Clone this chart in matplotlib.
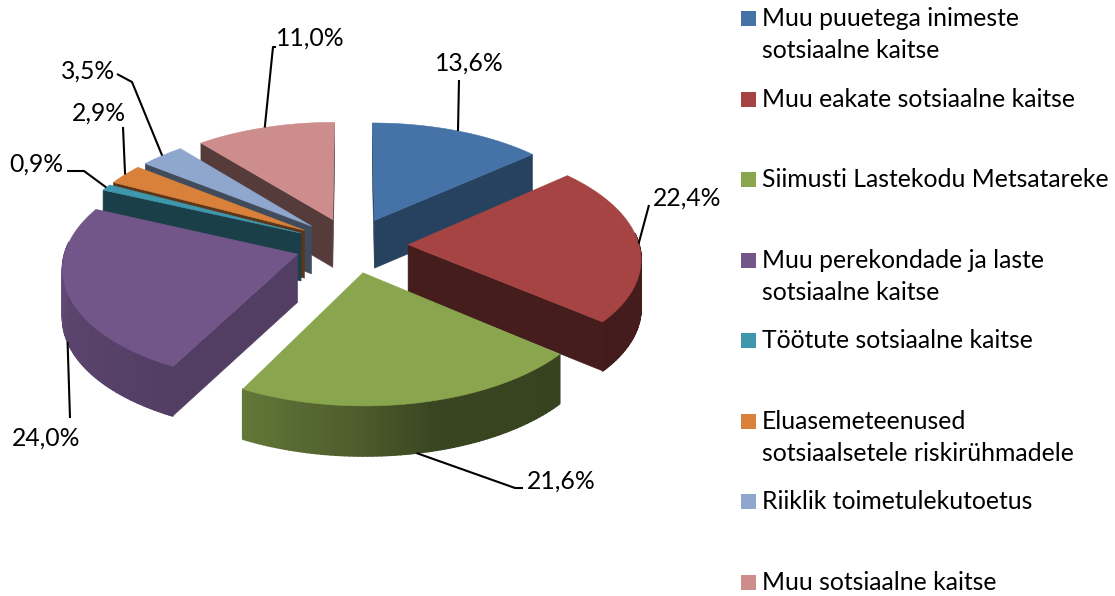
import numpy as np
import matplotlib
matplotlib.use("Agg")
import matplotlib.pyplot as plt
from matplotlib.patches import Polygon, Rectangle

plt.rcParams['font.family'] = ['Lato', 'DejaVu Sans']

# data
categories = ["Muu puuetega inimeste\nsotsiaalne kaitse", "Muu eakate sotsiaalne kaitse",
              "Siimusti Lastekodu Metsatareke", "Muu perekondade ja laste\nsotsiaalne kaitse",
              "Töötute sotsiaalne kaitse", "Eluasemeteenused\nsotsiaalsetele riskirühmadele",
              "Riiklik toimetulekutoetus", "Muu sotsiaalne kaitse"]
values = [13.6, 22.4, 21.6, 24.0, 0.9, 2.9, 3.5, 11.0]
value_labels = ["13,6%", "22,4%", "21,6%", "24,0%", "0,9%", "2,9%", "3,5%", "11,0%"]

# styles
colors = ["#4573a7", "#a54442", "#89a54e", "#72568a", "#3f97ae", "#d9813b", "#8fa7cd", "#cd8d8c"]
wall_shade = [0.57, 0.42, 0.42, 0.72, 0.42, 0.42, 0.45, 0.42]
draw_order = [7, 0, 6, 5, 4, 3, 1, 2]

# projection of the exploded pie, in pixels
cx, cy = 351.5, 245
scale_x, scale_y = 231, 112.7
persp = 0.106
explode = 0.245
height = 48


def project(x, y, z=0):
    f = 1 / (1 + persp * y)
    return cx + scale_x * x * f, cy - scale_y * y * f + height * z * f ** 0.3


def outer_shade(theta):
    return np.interp(theta, [0, 90, 130, 165, 180, 207, 250, 270, 300, 360],
                     [0.42, 0.42, 0.40, 0.42, 0.55, 0.72, 0.80, 0.85, 0.80, 0.42])


def shade(color, k):
    return tuple(np.array(matplotlib.colors.to_rgb(color)) * k)


fig = plt.figure(figsize=(11.15, 5.96), dpi=100)
ax = fig.add_axes([0, 0, 1, 1])
ax.set_xlim(0, 1115)
ax.set_ylim(596, 0)
ax.axis('off')

edges = np.concatenate([[0], np.cumsum(values)]) / sum(values) * 360
starts, ends = edges[:-1], edges[1:]
mids = (starts + ends) / 2


def slice_offset(i):
    m = np.radians(mids[i])
    return explode * np.sin(m), explode * np.cos(m)


def rim(i, theta):
    ox, oy = slice_offset(i)
    t = np.radians(theta)
    return ox + np.sin(t), oy + np.cos(t)


def wall_visible(i, a):
    # the wall shows when the slice itself lies above its edge on screen
    ax0, ay0 = project(*slice_offset(i))
    rx0, ry0 = project(*rim(i, a))
    mx0, my0 = project(*rim(i, mids[i]))
    side_down = rx0 - ax0
    side_mid = (rx0 - ax0) * (my0 - ay0) - (ry0 - ay0) * (mx0 - ax0)
    return side_down * side_mid < 0


for i in draw_order:
    ox, oy = slice_offset(i)
    wall = shade(colors[i], wall_shade[i])
    th = np.linspace(starts[i], ends[i], max(3, int(ends[i] - starts[i]) + 1))
    # outer wall, cut into small strips for the shading
    for a, b in zip(th[:-1], th[1:]):
        if np.cos(np.radians((a + b) / 2)) > 0.1:
            continue  # faces away
        xa, ya = rim(i, a)
        xb, yb = rim(i, b)
        c = shade(colors[i], outer_shade((a + b) / 2))
        pts = [project(xa, ya), project(xb, yb), project(xb, yb, 1), project(xa, ya, 1)]
        ax.add_patch(Polygon(pts, closed=True, fc=c, ec=c, lw=1.2, joinstyle='round'))
    # radial walls
    for a in (starts[i], ends[i]):
        if wall_visible(i, a):
            rx, ry = rim(i, a)
            pts = [project(ox, oy), project(rx, ry), project(rx, ry, 1), project(ox, oy, 1)]
            ax.add_patch(Polygon(pts, closed=True, fc=wall, ec=wall, lw=0.4))
    # top face
    top = [project(ox, oy)]
    for a in th:
        top.append(project(*rim(i, a)))
    ax.add_patch(Polygon(top, closed=True, fc=colors[i], ec=colors[i], lw=0.4))

# data labels with leader lines
label_font = 17.8
text_shift = 0.8
label_pos = [(469, 62), (687, 197), (561, 480), (46, 437), (36, 163), (99, 112), (88, 70), (310, 37)]
leader_via = [[(459, 80)], [(649, 205)], [(515, 488), (523, 488)], [(70, 418)],
              [(84, 171), (67, 171)], [(123, 127)], [(132, 82), (117, 74)], [(273, 47), (276, 47)]]
leader_drop = [0, 0, 1, 1, 0, 0, 0, 0]
for i in range(len(values)):
    sx, sy = project(*rim(i, mids[i]), leader_drop[i])
    path = [(sx, sy)] + leader_via[i]
    ax.plot([p[0] for p in path], [p[1] for p in path], color='black', lw=1.5, solid_capstyle='butt')
    ax.text(label_pos[i][0], label_pos[i][1] + text_shift, value_labels[i], ha='center', va='center',
            fontsize=label_font, color='black')

# legend
legend_y = [18, 99, 179, 260, 340, 421, 501, 582]
line_gap = 32
for i, name in enumerate(categories):
    ax.add_patch(Rectangle((741, legend_y[i] - 7.5), 15, 15, fc=colors[i], ec='none'))
    for j, line in enumerate(name.split("\n")):
        ax.text(762, legend_y[i] + j * line_gap + text_shift, line, ha='left', va='center',
                fontsize=label_font, color='black')

fig.savefig("out.png", dpi=100)
